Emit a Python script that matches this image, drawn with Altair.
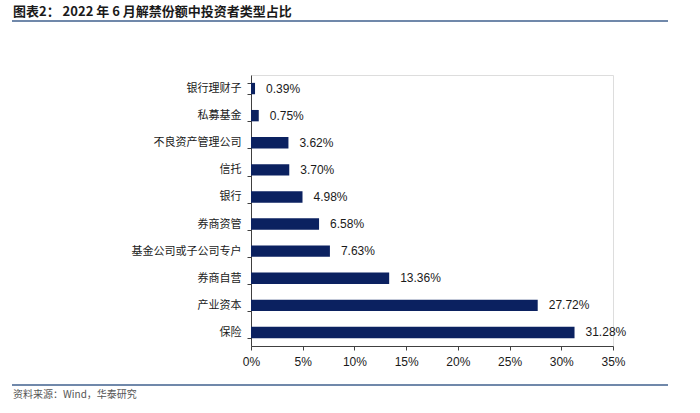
import altair as alt
import pandas as pd

categories = ["银行理财子", "私募基金", "不良资产管理公司", "信托", "银行", "券商资管",
              "基金公司或子公司专户", "券商自营", "产业资本", "保险"]
values = [0.39, 0.75, 3.62, 3.70, 4.98, 6.58, 7.63, 13.36, 27.72, 31.28]
x_ticks = [0, 5, 10, 15, 20, 25, 30, 35]

title_text = "图表2： 2022 年 6 月解禁份额中投资者类型占比"
source_text = "资料来源：Wind，华泰研究"

df = pd.DataFrame({"cat": categories, "val": values,
                   "lbl": [f"{v:.2f}%" for v in values]})

W, H = 362, 271
L, T = 251, 75

x_enc = alt.X("val:Q", scale=alt.Scale(domain=[0, 35], nice=False),
              axis=alt.Axis(values=x_ticks, labelExpr="datum.value + '%'", title=None,
                            grid=False, domainColor="#404040", tickColor="#404040",
                            tickSize=4, labelFontSize=12, labelFont="Liberation Sans",
                            labelColor="#1a1a1a", labelPadding=6, labelFlush=False))
y_enc = alt.Y("cat:N", sort=categories,
              scale=alt.Scale(paddingInner=0.58, paddingOuter=0.29),
              axis=alt.Axis(title=None, tickBand="extent", domainColor="#404040",
                            tickColor="#404040", tickSize=4, labelFontSize=11,
                            labelFont="Noto Sans CJK SC", labelColor="#1a1a1a",
                            labelPadding=6))

bars = alt.Chart(df).mark_bar(color="#0b2160").encode(x=x_enc, y=y_enc)
texts = alt.Chart(df).mark_text(align="left", dx=11, fontSize=12,
                                font="Liberation Sans", color="#1a1a1a").encode(
    x="val:Q", y=alt.Y("cat:N", sort=categories), text="lbl:N")

title = alt.Chart(pd.DataFrame({"t": [title_text]})).mark_text(
    align="left", baseline="middle", fontSize=13, fontWeight="bold",
    font="Noto Sans CJK SC", color="#1a1a1a").encode(
    x=alt.value(13 - L), y=alt.value(12 - T), text="t:N")
source = alt.Chart(pd.DataFrame({"t": [source_text]})).mark_text(
    align="left", baseline="middle", fontSize=10,
    font="Noto Sans CJK SC", color="#555555").encode(
    x=alt.value(13 - L), y=alt.value(395 - T), text="t:N")
top_line = alt.Chart(pd.DataFrame({"a": [0]})).mark_rule(
    color="#7088aa", strokeWidth=2).encode(
    x=alt.value(12 - L), x2=alt.value(668 - L), y=alt.value(21 - T))
bot_line = alt.Chart(pd.DataFrame({"a": [0]})).mark_rule(
    color="#7088aa", strokeWidth=2).encode(
    x=alt.value(12 - L), x2=alt.value(668 - L), y=alt.value(385 - T))

chart = alt.layer(bars, texts, title, source, top_line, bot_line).properties(
    width=W, height=H,
    autosize=alt.AutoSizeParams(type="none"),
    padding={"left": L, "top": T, "right": 700 - L - W, "bottom": 413 - T - H},
).configure_view(stroke=None).configure(background="white")

chart.save("out.html", embed_options={"renderer": "svg", "actions": False})
